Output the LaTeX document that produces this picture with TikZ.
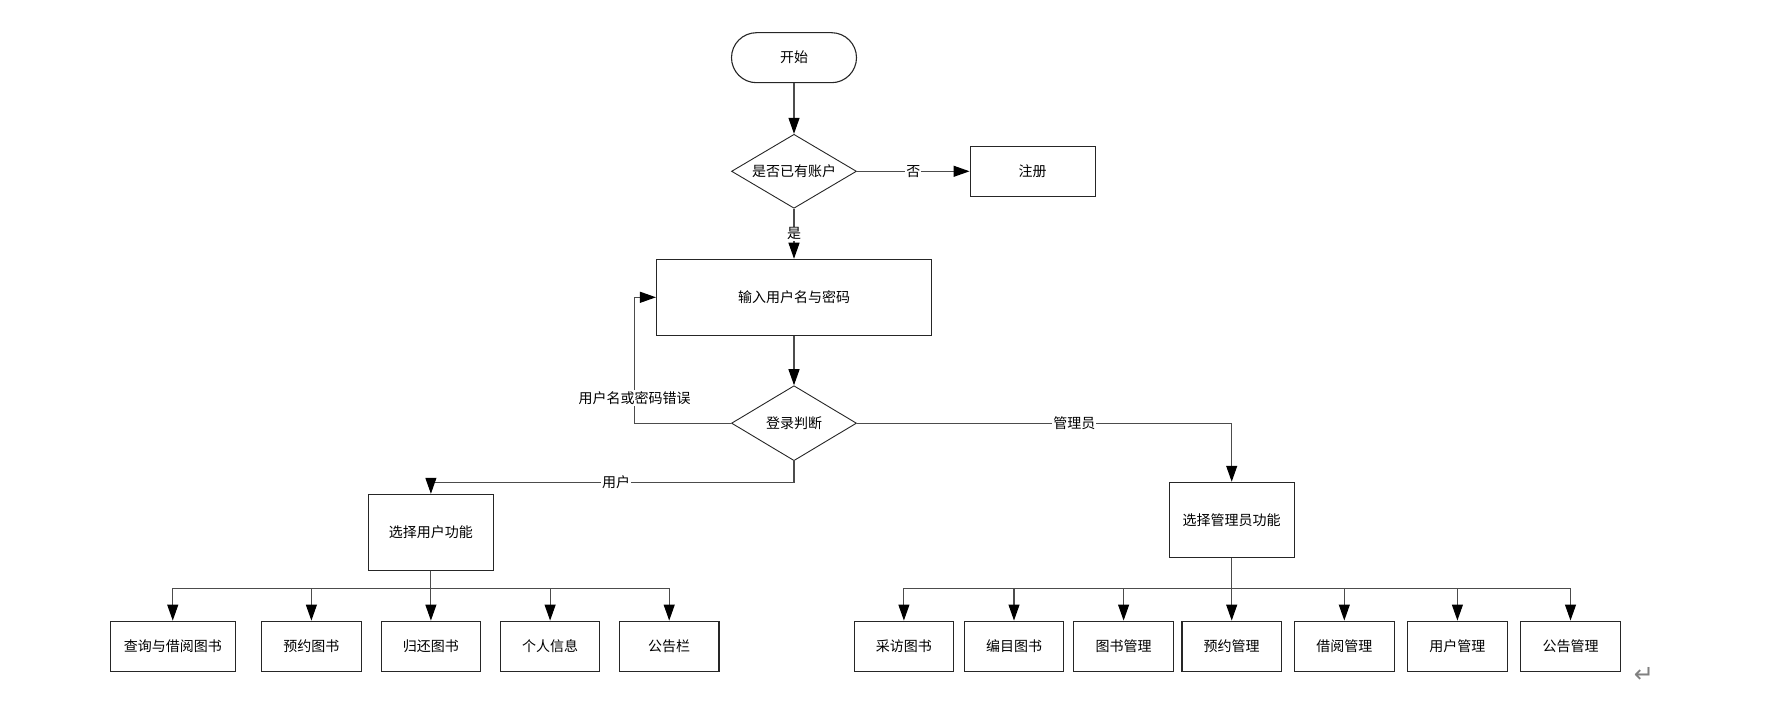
\documentclass[tikz,border=0pt]{standalone}
\usepackage{fontspec}
\setmainfont{Noto Sans CJK SC}
\newfontfamily\symfont{DejaVu Sans}
\usetikzlibrary{positioning,shapes.geometric,arrows.meta,calc}

\begin{document}
\begin{tikzpicture}[
    x=1pt, y=1pt,
    font=\fontsize{14pt}{17pt}\selectfont,
    box/.style={draw=black!85, line width=1.1pt, minimum width=125pt, minimum height=50pt, inner sep=0pt},
    fbox/.style={box, minimum width=99.5pt},
    decide/.style={draw=black!85, line width=0.9pt, diamond, aspect=1.7, minimum width=125pt, minimum height=75pt, inner sep=0pt},
    lbl/.style={fill=white, inner sep=1pt},
    arr/.style={draw=black!70, line width=1.1pt, -{Triangle[width=11pt,length=16pt,color=black]}}
]
    \useasboundingbox (0,0) rectangle (1780,-708);

    % main column
    \node [box, rounded corners=25pt] (start) at (794,-57.7) {开始};
    \node [decide, minimum height=74pt, below=50.6pt of start] (hasacc) {是否已有账户};
    \node [box, right=112.6pt of hasacc] (reg) {注册};
    \node [box, minimum width=275pt, minimum height=76pt, below=50pt of hasacc] (login) {输入用户名与密码};
    \node [decide, below=49.4pt of login] (check) {登录判断};

    % branches
    \node [box, minimum height=75pt] (admin) at (1231.7,-519.8) {选择管理员功能};
    \node [box, minimum height=75.7pt] (user) at (430.9,-532.2) {选择用户功能};

    % user functions
    \node [fbox, below=50pt of user] (u3) {归还图书};
    \node [fbox, left=18.9pt of u3] (u2) {预约图书};
    \node [fbox, minimum width=125pt, left=25.3pt of u2] (u1) {查询与借阅图书};
    \node [fbox, right=18.6pt of u3] (u4) {个人信息};
    \node [fbox, right=18.5pt of u4] (u5) {公告栏};

    % admin functions
    \node [fbox, below=62.7pt of admin] (a4) {预约管理};
    \node [fbox, left=7.5pt of a4] (a3) {图书管理};
    \node [fbox, left=9pt of a3] (a2) {编目图书};
    \node [fbox, left=9.5pt of a2] (a1) {采访图书};
    \node [fbox, right=12pt of a4] (a5) {借阅管理};
    \node [fbox, right=12.5pt of a5] (a6) {用户管理};
    \node [fbox, right=12.5pt of a6] (a7) {公告管理};

    \node [text=black!50, font=\symfont\fontsize{24pt}{24pt}\selectfont] (mark) at (1644,-675) {↵};

    \draw [arr] (start) -- (hasacc);
    \draw [arr] (hasacc) -- node [lbl] {否} (reg);
    \draw [arr] (hasacc) -- node [lbl] {是} (login);
    \draw [arr] (login) -- (check);
    \draw [arr] (check.west) -- ++(-96.5,0) |- node [lbl, pos=0.1] {用户名或密码错误} (login.west);
    \draw [arr] (check.east) -| node [lbl, pos=0.29] {管理员} (admin.north);
    \draw [arr] (check.south) -- ++(0,-21.3) -| node [lbl, pos=0.245] {用户} (user.north);

    \foreach \c in {u1,u2,u3,u4,u5}
        \draw [arr] (user.south) -- ++(0,-18.3) -| (\c.north);
    \foreach \c in {a1,a2,a3,a4,a5,a6,a7}
        \draw [arr] (admin.south) -- ++(0,-31) -| (\c.north);
\end{tikzpicture}
\end{document}
